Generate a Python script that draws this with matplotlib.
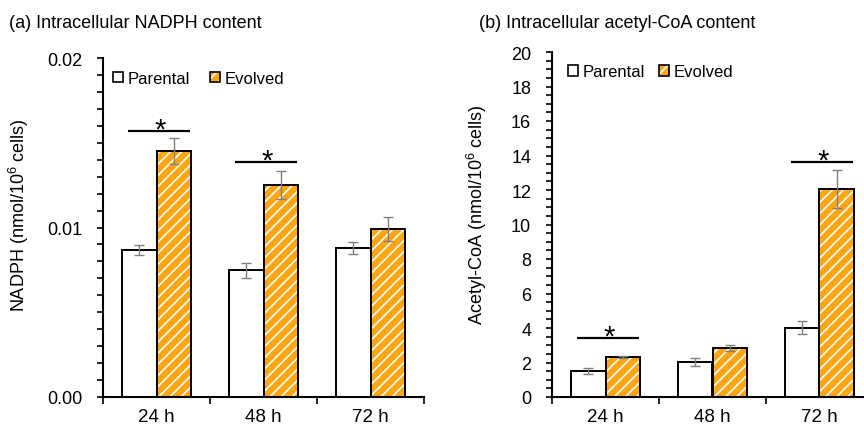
import matplotlib
matplotlib.use('Agg')
import matplotlib.pyplot as plt
import numpy as np
from matplotlib.patches import Patch
from matplotlib.ticker import MultipleLocator, FixedLocator, FormatStrFormatter

plt.rcParams['font.family'] = ['Liberation Sans', 'DejaVu Sans']
plt.rcParams['mathtext.fontset'] = 'custom'
plt.rcParams['mathtext.rm'] = 'Liberation Sans'
plt.rcParams['hatch.linewidth'] = 1.2

# data
times = ['24 h', '48 h', '72 h']

nadph_parental = [0.00869, 0.00749, 0.00879]
nadph_parental_err = [0.00030, 0.00044, 0.00037]
nadph_evolved = [0.01450, 0.01249, 0.00989]
nadph_evolved_err = [0.00077, 0.00083, 0.00070]
nadph_sig_groups = [0, 1]
nadph_sig_levels = [0.01571, 0.01388]

acoa_parental = [1.51, 2.03, 4.02]
acoa_parental_err = [0.15, 0.23, 0.39]
acoa_evolved = [2.32, 2.84, 12.08]
acoa_evolved_err = [0.07, 0.18, 1.10]
acoa_sig_groups = [0, 2]
acoa_sig_levels = [3.42, 13.64]

orange = '#FFA50F'
err_grey = '#7F7F7F'
w = 0.318


def panel(ax, parental, p_err, evolved, e_err, sig_groups, sig_levels,
          ymax, major, minor, fmt, ylabel, label_xy, legend_xy, colspace):
    x = np.arange(len(times))
    ekw = dict(ecolor=err_grey, elinewidth=1.0, capsize=3.5, capthick=1.0)
    ax.bar(x - w / 2, parental, w, color='white', edgecolor='black',
           linewidth=1.4, yerr=p_err, error_kw=ekw, zorder=2)
    ax.bar(x + w / 2, evolved, w, color=orange, edgecolor='white',
           hatch='///', linewidth=0, zorder=2)
    ax.bar(x + w / 2, evolved, w, fill=False, edgecolor='black',
           linewidth=1.4, yerr=e_err, error_kw=ekw, zorder=3)

    for g, lv in zip(sig_groups, sig_levels):
        ax.plot([g - 0.27, g + 0.31], [lv, lv], color='black', lw=1.6,
                solid_capstyle='butt', clip_on=False)
        ax.annotate('*', xy=(g + 0.03, lv), xytext=(0, -5),
                    textcoords='offset points', ha='center', va='baseline',
                    fontsize=21)

    ax.set_xlim(-0.5, len(times) - 0.5)
    ax.set_ylim(0, ymax)
    ax.xaxis.set_major_locator(FixedLocator(x))
    ax.set_xticklabels(times, fontsize=13.5)
    ax.xaxis.set_minor_locator(FixedLocator(np.arange(len(times) + 1) - 0.5))
    ax.tick_params(axis='x', which='major', length=0, pad=8)
    ax.tick_params(axis='x', which='minor', length=5, width=1.2, direction='out')
    ax.yaxis.set_major_locator(MultipleLocator(major))
    ax.yaxis.set_minor_locator(MultipleLocator(minor))
    ax.yaxis.set_major_formatter(FormatStrFormatter(fmt))
    ax.tick_params(axis='y', which='both', length=4, width=1.2,
                   direction='out', labelsize=13, pad=11)
    for s in ['top', 'right']:
        ax.spines[s].set_visible(False)
    for s in ['left', 'bottom']:
        ax.spines[s].set_linewidth(1.5)

    ax.set_ylabel(ylabel, fontsize=13)
    ax.yaxis.set_label_coords(*label_xy)

    h_par = Patch(facecolor='white', edgecolor='black', linewidth=1.2)
    h_evo = (Patch(facecolor=orange, edgecolor='white', hatch='///', linewidth=0),
             Patch(facecolor='none', edgecolor='black', linewidth=1.2))
    ax.legend([h_par, h_evo], ['Parental', 'Evolved'], ncol=2, frameon=False,
              loc='center left', bbox_to_anchor=legend_xy, fontsize=12,
              handlelength=0.6, handleheight=0.6, handletextpad=0.28,
              columnspacing=colspace, borderpad=0, borderaxespad=0)


fig = plt.figure(figsize=(8.64, 4.27), dpi=100)
ax1 = fig.add_axes([103 / 864, 1 - 398 / 427, 321 / 864, 339 / 427])
ax2 = fig.add_axes([552 / 864, 1 - 398 / 427, 321 / 864, 345 / 427])

panel(ax1, nadph_parental, nadph_parental_err, nadph_evolved, nadph_evolved_err,
      nadph_sig_groups, nadph_sig_levels, 0.02, 0.01, 0.001, '%.2f',
      r'NADPH (nmol/10$^{6}$ cells)', (-0.225, 0.54), (0.030, 0.940), 1.2)
panel(ax2, acoa_parental, acoa_parental_err, acoa_evolved, acoa_evolved_err,
      acoa_sig_groups, acoa_sig_levels, 20, 2, 0.5, '%d',
      r'Acetyl-CoA (nmol/10$^{6}$ cells)', (-0.195, 0.53), (0.050, 0.943), 0.84)

fig.text(9 / 864, 1 - 23 / 427, '(a) Intracellular NADPH content',
         fontsize=13, va='center', ha='left')
fig.text(479 / 864, 1 - 24 / 427, '(b) Intracellular acetyl-CoA content',
         fontsize=13, va='center', ha='left')

fig.savefig('out.png', dpi=100)
